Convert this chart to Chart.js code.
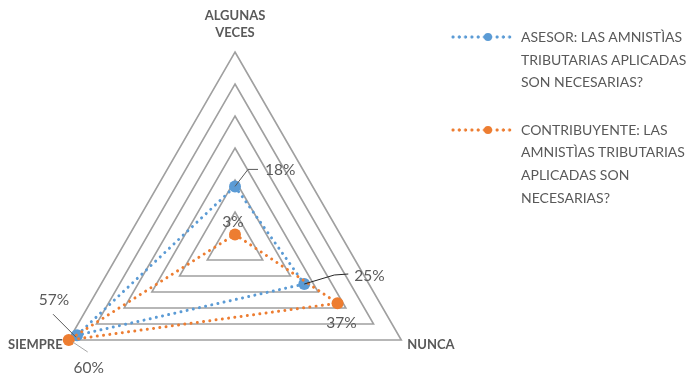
<!DOCTYPE html>
<html>
<head>
<meta charset="utf-8">
<title>Amnistías tributarias</title>
<script src="https://cdn.jsdelivr.net/npm/chart.js@4/dist/chart.umd.min.js"></script>
<style>
  html, body { margin: 0; padding: 0; background: #fff; overflow: hidden; width: 696px; height: 376px; }
  #wrap { position: relative; width: 696px; height: 436px; }
  #legend { position: absolute; left: 450px; top: 26px; font-family: Lato, "Open Sans", sans-serif;
            font-size: 14px; line-height: 22.6px; color: #595959; }
  .item { position: relative; padding-left: 71px; margin-bottom: 25px; white-space: nowrap; }
  .key { position: absolute; left: 0; top: 8px; width: 63px; height: 6px; }
  .dots { position: absolute; inset: 0; }
  .knob { position: absolute; left: 34px; top: -1px; width: 8px; height: 8px; border-radius: 50%; }
</style>
</head>
<body>
<div id="wrap">
  <canvas id="chart" width="696" height="436"></canvas>
  <div id="legend"></div>
</div>
<script>
// Axis categories (clockwise from the top)
const categories = [['ALGUNAS', 'VECES'], ['NUNCA'], ['SIEMPRE']];

// Series names, one entry per line of the legend text
const asesorName = ['ASESOR: LAS AMNISTÌAS', 'TRIBUTARIAS APLICADAS', 'SON NECESARIAS?'];
const contribuyenteName = ['CONTRIBUYENTE: LAS', 'AMNISTÌAS TRIBUTARIAS', 'APLICADAS SON', 'NECESARIAS?'];

// Percentages per category
const asesorValues = [18, 25, 57];
const contribuyenteValues = [3, 37, 60];

// Radial scale ticks (percent)
const scaleTicks = [0, 10, 20, 30, 40, 50, 60];

const BLUE = '#5B9BD5';
const ORANGE = '#ED7D31';
const TEXT = '#595959';
const FONT = 'Lato, "Open Sans", sans-serif';

// Where each value label sits relative to its point, plus optional leader line
const labelPlacement = [
  [
    { dx: 30, dy: -16, align: 'left', leader: [[0, 0], [13, -17], [23, -17]], leaderColor: '#595959' },
    { dx: 50, dy: -8, align: 'left', leader: [[0, 0], [30, -9], [44, -10]], leaderColor: '#262626' },
    { dx: -23, dy: -35, align: 'center', leader: [[-1, 2], [-24, -21]], leaderColor: '#595959' }
  ],
  [
    { dx: -2, dy: -12, align: 'center' },
    { dx: 4, dy: 20, align: 'center' },
    { dx: 20, dy: 28, align: 'center', leader: [[4, 2], [19, 12]], leaderColor: '#a6a6a6' }
  ]
];

// Category names around the polygon
const axisLabelsPlugin = {
  id: 'axisLabels',
  afterDraw(chart) {
    const scale = chart.scales.r;
    const ctx = chart.ctx;
    ctx.save();
    ctx.font = 'bold 13px ' + FONT;
    ctx.fillStyle = TEXT;
    const lineH = 17;
    scale.getLabels().forEach((label, i) => {
      const lines = Array.isArray(label) ? label : [label];
      const angle = scale.getIndexAngle(i) * 180 / Math.PI;
      const p = scale.getPointPosition(i, scale.drawingArea + 7);
      let align = 'center';
      if (angle > 1 && angle < 179) align = 'left';
      else if (angle > 181 && angle < 359) align = 'right';
      ctx.textAlign = align;
      ctx.textBaseline = 'middle';
      let y0;
      if (angle < 1 || angle > 359) {
        y0 = p.y - 12 - (lines.length - 1) * lineH;
      } else {
        y0 = p.y + 1 - (lines.length - 1) * lineH / 2;
      }
      lines.forEach((t, k) => ctx.fillText(t, p.x, y0 + k * lineH));
    });
    ctx.restore();
  }
};

// Percentage labels next to each point
const valueLabelsPlugin = {
  id: 'valueLabels',
  afterDatasetsDraw(chart) {
    const ctx = chart.ctx;
    ctx.save();
    chart.data.datasets.forEach((ds, di) => {
      const meta = chart.getDatasetMeta(di);
      meta.data.forEach((pt, i) => {
        const cfg = labelPlacement[di][i];
        if (cfg.leader) {
          ctx.beginPath();
          ctx.strokeStyle = cfg.leaderColor;
          ctx.lineWidth = 1;
          cfg.leader.forEach(([lx, ly], k) => {
            if (k === 0) ctx.moveTo(pt.x + lx, pt.y + ly);
            else ctx.lineTo(pt.x + lx, pt.y + ly);
          });
          ctx.stroke();
        }
        ctx.font = '15.5px ' + FONT;
        ctx.fillStyle = TEXT;
        ctx.textAlign = cfg.align;
        ctx.textBaseline = 'middle';
        ctx.fillText(ds.data[i] + '%', pt.x + cfg.dx, pt.y + cfg.dy);
      });
    });
    ctx.restore();
  }
};

const chart = new Chart(document.getElementById('chart'), {
  type: 'radar',
  data: {
    labels: categories,
    datasets: [
      {
        label: asesorName.join(' '),
        data: asesorValues,
        borderColor: BLUE,
        backgroundColor: BLUE,
        pointBackgroundColor: BLUE,
        pointBorderColor: BLUE,
        order: 1
      },
      {
        label: contribuyenteName.join(' '),
        data: contribuyenteValues,
        borderColor: ORANGE,
        backgroundColor: ORANGE,
        pointBackgroundColor: ORANGE,
        pointBorderColor: ORANGE,
        order: 0
      }
    ]
  },
  options: {
    responsive: false,
    devicePixelRatio: 1,
    animation: false,
    layout: { padding: { top: 52, left: 0, right: 226, bottom: 0 } },
    elements: {
      line: {
        borderWidth: 3,
        borderDash: [0.01, 6.3],
        borderCapStyle: 'round',
        fill: false,
        tension: 0
      },
      point: { radius: 6, borderWidth: 0, hoverRadius: 6 }
    },
    plugins: {
      legend: { display: false },
      tooltip: { enabled: false }
    },
    scales: {
      r: {
        min: scaleTicks[0],
        max: scaleTicks[scaleTicks.length - 1],
        ticks: { display: false, stepSize: scaleTicks[1] - scaleTicks[0] },
        grid: { circular: false, color: '#a0a0a0', lineWidth: 1.6 },
        angleLines: { display: false },
        pointLabels: { display: false }
      }
    }
  },
  plugins: [axisLabelsPlugin, valueLabelsPlugin]
});

// Legend built from the series names and colours
const legendNames = [asesorName, contribuyenteName];
const legend = document.getElementById('legend');
chart.data.datasets.forEach((ds, i) => {
  const color = ds.borderColor;
  const item = document.createElement('div');
  item.className = 'item';
  const key = document.createElement('span');
  key.className = 'key';
  const dots = document.createElement('span');
  dots.className = 'dots';
  dots.style.background = 'radial-gradient(circle at 3px 3px, ' + color + ' 1.3px, transparent 1.9px) 0 0 / 6.3px 6px repeat-x';
  const knob = document.createElement('span');
  knob.className = 'knob';
  knob.style.background = color;
  key.appendChild(dots);
  key.appendChild(knob);
  item.appendChild(key);
  legendNames[i].forEach((line, k) => {
    if (k) item.appendChild(document.createElement('br'));
    item.appendChild(document.createTextNode(line));
  });
  legend.appendChild(item);
});
</script>
</body>
</html>
